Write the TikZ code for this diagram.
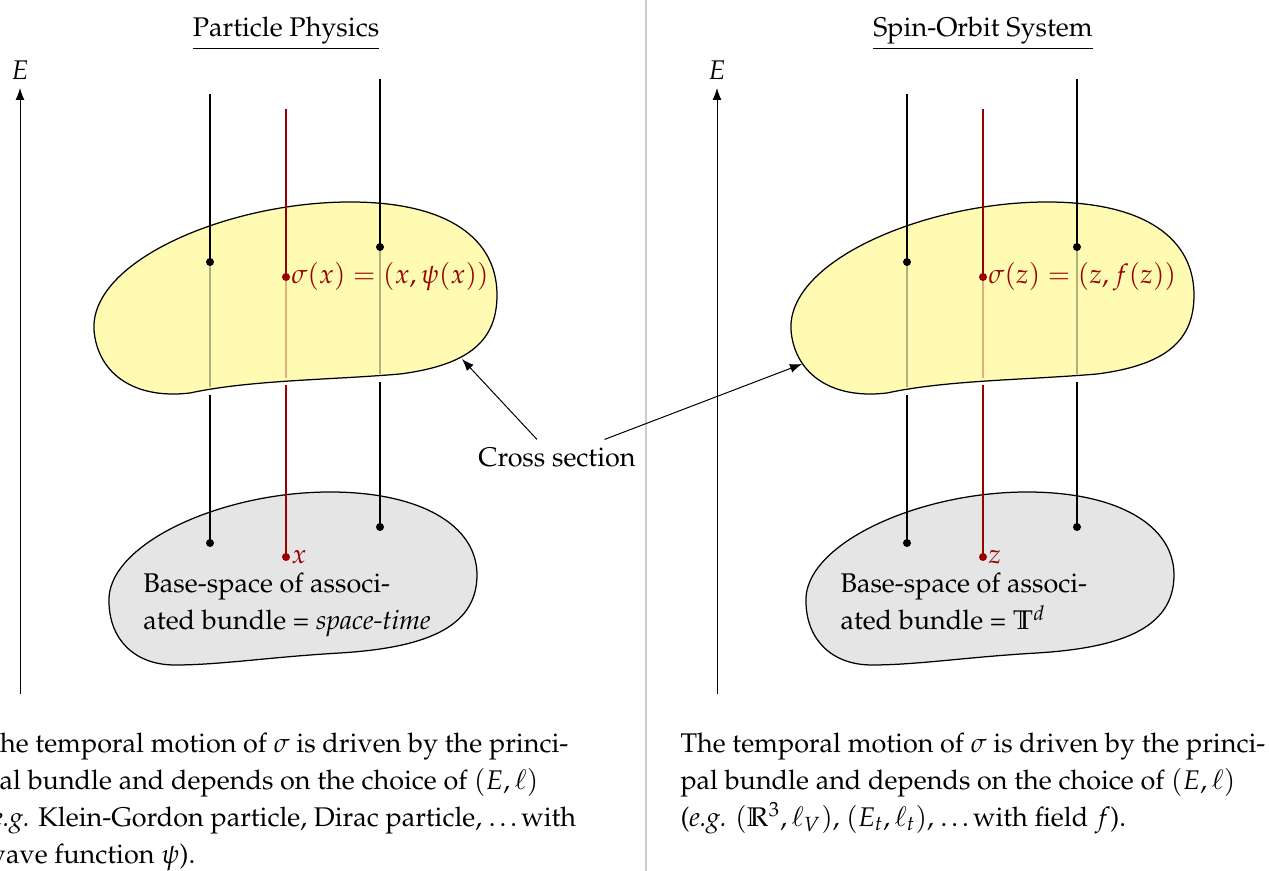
\documentclass[tikz,border=0pt]{standalone}
\usepackage[T1]{fontenc}
\usepackage{mathpazo}
\usepackage{tikz}
\usetikzlibrary{arrows.meta,calc,positioning}
\usepackage{xcolor}

\begin{document}
\begin{tikzpicture}[x=0.4pt,y=-0.4pt,>=Latex,font=\fontsize{10.8pt}{14.8pt}\selectfont,
    fibre/.style={line width=0.7pt},
    fibrered/.style={line width=1pt,red!60!black},
    faint/.style={draw opacity=0.3},
    sectionspace/.style={draw,line width=0.5pt,fill=yellow!30},
    basespace/.style={draw,line width=0.5pt,fill=gray!20},
    ptlabel/.style={anchor=west,inner sep=2pt,text=red!60!black},
    captext/.style={align=left,inner sep=0pt}]
  \useasboundingbox (0,0) rectangle (1269,871);
  \clip (0,0) rectangle (1269,871);

  % Helper macro: one bundle panel. #1 x offset, #2 name prefix, #3 title,
  % #4 base point, #5 fibre value, #6 base-space name, #7 caption
  \newcommand{\bundlepanel}[7]{%
    \begin{scope}[shift={(#1,0)}]
      % title and energy axis
      \node[anchor=base] (#2title) at (286,37) {\underline{#3}};
      \coordinate (#2axisbot) at (20,694);
      \coordinate (#2axistop) at (20,88);
      \draw[->] (#2axisbot) -- (#2axistop);
      \node[above=0pt of #2axistop] (#2E) {$E$};

      % base space with the lower ends of the fibres
      \draw[basespace] (109,603) .. controls (105,545) and (220,492) .. (330,492)
        .. controls (420,492) and (477,525) .. (477,575)
        .. controls (477,630) and (420,648) .. (340,653)
        .. controls (270,657) and (220,665) .. (175,665)
        .. controls (135,665) and (110,640) .. (109,603) -- cycle;
      \node[captext,anchor=base west] (#2base) at (143,630) {Base-space of associ-\\ated bundle = #6};
      \foreach \fx/\fcut/\fbase in {210/395/543, 380/382/527}{
        \draw[fibre] (\fx,\fcut) -- (\fx,\fbase);
        \fill (\fx,\fbase) circle[radius=1.6pt];
      }
      \draw[fibrered] (286,385) -- (286,557);
      \fill[red!60!black] (286,557) circle[radius=1.6pt] node[ptlabel] (#2pt) {$#4$};

      % cross section, fibres seen through it
      \draw[sectionspace] (94,330) .. controls (90,260) and (230,202) .. (350,202)
        .. controls (450,202) and (497,240) .. (497,295)
        .. controls (497,340) and (470,365) .. (400,374)
        .. controls (330,380) and (250,380) .. (190,393)
        .. controls (130,400) and (97,370) .. (94,330) -- cycle;
      \foreach \fx/\ftop/\fsec/\fcut in {210/94/262/395, 380/79/247/382}{
        \draw[fibre,faint] (\fx,\fsec) -- (\fx,\fcut-8);
        \draw[fibre] (\fx,\ftop) -- (\fx,\fsec);
        \fill (\fx,\fsec) circle[radius=1.6pt];
      }
      \draw[fibrered,faint] (286,277) -- (286,378);
      \draw[fibrered] (286,109) -- (286,277);
      \fill[red!60!black] (286,277) circle[radius=1.6pt]
        node[ptlabel] (#2sec) {$\sigma(#4)=(#4,#5)$};

      % caption
      \node[captext,anchor=north west] (#2caption) at (-17,726) {\strut#7};
    \end{scope}
  }

  \bundlepanel{0}{pp}{Particle Physics}{x}{\psi(x)}{\emph{space-time}}{%
    The temporal motion of $\sigma$ is driven by the princi-\\
    pal bundle and depends on the choice of $(E,\ell)$\\
    (\emph{e.g.} Klein-Gordon particle, Dirac particle, \ldots with\\
    wave function $\psi$).}
  \bundlepanel{697}{so}{Spin-Orbit System}{z}{f(z)}{$\mathbb{T}^d$}{%
    The temporal motion of $\sigma$ is driven by the princi-\\
    pal bundle and depends on the choice of $(E,\ell)$\\
    (\emph{e.g.} $(\mathbb{R}^3,\ell_V)$, $(E_t,\ell_t)$, \ldots with field $f$).}

  % separator between the panels
  \draw[gray!40,line width=0.5pt] (646,0) -- (646,871);

  % shared label
  \node[anchor=base] (cross) at (557,467) {Cross section};
  \coordinate (ppsecedge) at (462,359);
  \coordinate (sosecedge) at (802,364);
  \draw[->] ([xshift=-8pt]cross.north) -- (ppsecedge);
  \draw[->] ([xshift=19pt]cross.north) -- (sosecedge);
\end{tikzpicture}
\end{document}
